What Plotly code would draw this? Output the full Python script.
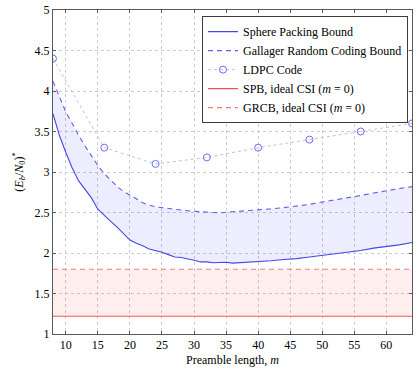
import plotly.graph_objects as go

# Sphere Packing Bound (solid blue)
spb_m = [8, 9, 10, 11, 12, 13, 14, 15, 16, 17, 18, 19, 20, 21, 22, 23, 24, 25, 26, 27, 28, 29, 30,
         31, 32, 33, 34, 35, 36, 37, 38, 40, 42, 44, 46, 48, 50, 52, 54, 56, 58, 60, 62, 64]
spb_val = [3.72, 3.45, 3.24, 3.05, 2.89, 2.78, 2.68, 2.54, 2.46, 2.39, 2.32, 2.24, 2.16, 2.12, 2.09,
           2.05, 2.03, 2.01, 1.98, 1.95, 1.945, 1.93, 1.91, 1.89, 1.89, 1.88, 1.88, 1.885, 1.875,
           1.88, 1.885, 1.89, 1.905, 1.92, 1.93, 1.95, 1.97, 1.99, 2.01, 2.03, 2.06, 2.08, 2.10, 2.13]

# Gallager Random Coding Bound (dashed blue)
grcb_m = [8, 9, 10, 11, 12, 13, 14, 15, 16, 17, 18, 19, 20, 21, 22, 23, 24, 25, 26, 27, 28, 30,
          32, 34, 36, 38, 40, 42, 44, 46, 48, 50, 52, 54, 56, 58, 60, 62, 64]
grcb_val = [4.12, 3.92, 3.74, 3.60, 3.45, 3.32, 3.20, 3.08, 2.98, 2.90, 2.82, 2.76, 2.72, 2.67,
            2.62, 2.59, 2.57, 2.56, 2.545, 2.535, 2.53, 2.515, 2.505, 2.495, 2.51, 2.52, 2.535,
            2.545, 2.56, 2.58, 2.60, 2.63, 2.655, 2.68, 2.71, 2.74, 2.77, 2.795, 2.82]

# LDPC code
ldpc_m = [8, 16, 24, 32, 40, 48, 56, 64]
ldpc_val = [4.4, 3.3, 3.1, 3.18, 3.3, 3.4, 3.5, 3.6]

# Ideal CSI (m = 0) bounds
ideal_m = [8, 64]
spb_ideal = [1.22, 1.22]
grcb_ideal = [1.8, 1.8]

x_ticks = [10, 15, 20, 25, 30, 35, 40, 45, 50, 55, 60]
y_ticks = [1, 1.5, 2, 2.5, 3, 3.5, 4, 4.5, 5]

BLUE = "rgb(70,70,235)"
BLUE_D = "rgb(95,95,240)"
RED = "rgb(238,85,85)"
RED_D = "rgb(242,125,125)"
FONT = "Liberation Serif, Times New Roman, serif"

fig = go.Figure()
fig.add_trace(go.Scatter(x=spb_m, y=spb_val, mode="lines", name="Sphere Packing Bound",
                         line=dict(color=BLUE, width=1.1)))
fig.add_trace(go.Scatter(x=grcb_m, y=grcb_val, mode="lines", fill="tonexty",
                         fillcolor="rgba(0,0,255,0.07)", line=dict(width=0),
                         showlegend=False, hoverinfo="skip"))
fig.add_trace(go.Scatter(x=grcb_m, y=grcb_val, mode="lines", name="Gallager Random Coding Bound",
                         line=dict(color=BLUE_D, width=1.1, dash="5px,4px")))
fig.add_trace(go.Scatter(x=ldpc_m, y=ldpc_val, mode="lines+markers", name="LDPC Code",
                         line=dict(color="rgb(190,190,245)", width=1, dash="dot"),
                         marker=dict(symbol="circle-open", size=7,
                                     color="rgb(110,110,235)", line=dict(width=1))))
fig.add_trace(go.Scatter(x=ideal_m, y=spb_ideal, mode="lines", name="SPB, ideal CSI (<i>m</i> = 0)",
                         line=dict(color=RED, width=1.1)))
fig.add_trace(go.Scatter(x=ideal_m, y=grcb_ideal, mode="lines", fill="tonexty",
                         fillcolor="rgba(255,0,0,0.065)", line=dict(width=0),
                         showlegend=False, hoverinfo="skip"))
fig.add_trace(go.Scatter(x=ideal_m, y=grcb_ideal, mode="lines", name="GRCB, ideal CSI (<i>m</i> = 0)",
                         line=dict(color=RED_D, width=1.1, dash="5px,4px")))

axis_common = dict(showgrid=True, gridcolor="rgb(205,205,205)", griddash="dot", gridwidth=1,
                   showline=True, linecolor="rgb(90,90,90)", linewidth=1, mirror="allticks",
                   ticks="inside", ticklen=3, tickcolor="rgb(90,90,90)", zeroline=False,
                   tickfont=dict(family=FONT, size=12, color="black"))

fig.update_xaxes(range=[8, 64], tickvals=x_ticks,
                 title=dict(text="Preamble length, <i>m</i>", font=dict(family=FONT, size=12, color="black"),
                            standoff=4),
                 **axis_common)
fig.update_yaxes(range=[1, 5], tickvals=y_ticks, ticktext=[f"{v:g}" for v in y_ticks],
                 title=dict(text="(<i>E</i><sub><i>b</i></sub>/<i>N</i><sub>0</sub>)<sup>*</sup>",
                            font=dict(family=FONT, size=12, color="black"), standoff=8),
                 **axis_common)

fig.update_layout(
    width=416, height=372,
    margin=dict(l=53, r=3, t=8, b=38),
    plot_bgcolor="white", paper_bgcolor="white",
    font=dict(family=FONT, size=12, color="black"),
    legend=dict(x=0.415, y=0.981, xanchor="left", yanchor="top", traceorder="normal",
                bgcolor="white", bordercolor="rgb(60,60,60)", borderwidth=1,
                font=dict(family=FONT, size=12, color="black"),
                tracegroupgap=0, itemwidth=30),
)

fig.write_html("out.html", config={"displayModeBar": False},
               post_script="document.body.style.margin='0';document.body.style.overflow='hidden';")
